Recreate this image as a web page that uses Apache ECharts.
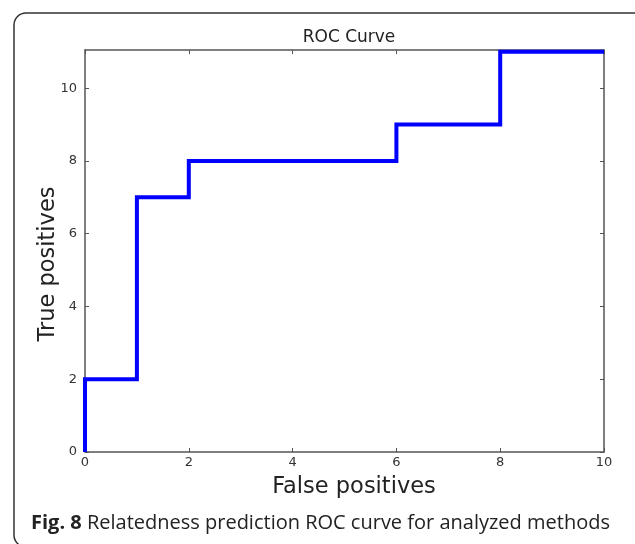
<!DOCTYPE html>
<html><head><meta charset="utf-8">
<script src="https://cdn.jsdelivr.net/npm/echarts@6/dist/echarts.min.js"></script>
<style>html,body{margin:0;padding:0;background:#fff}#c{width:635px;height:544px}</style>
</head><body><div id="c"></div>
<script>
const falsePositives = [0, 0, 1, 1, 2, 2, 6, 6, 8, 8, 10];
const truePositives  = [0, 2, 2, 7, 7, 8, 8, 9, 9, 11, 11];
const xTicks = [0, 2, 4, 6, 8, 10];
const yTicks = [0, 2, 4, 6, 8, 10];
const titleText = 'ROC Curve';
const xName = 'False positives';
const yName = 'True positives';
const captionBold = 'Fig. 8';
const captionRest = ' Relatedness prediction ROC curve for analyzed methods';

const points = falsePositives.map((x, i) => [x, truePositives[i]]);
const font = '"DejaVu Sans", sans-serif';
const axisCol = '#555';

const chart = echarts.init(document.getElementById('c'), null, {renderer: 'canvas'});
const tickStyle = {show: true, inside: true, length: 4, lineStyle: {color: axisCol, width: 1}};
const lineStyle = {show: true, onZero: false, lineStyle: {color: axisCol, width: 1.5}};
chart.setOption({
  animation: false,
  backgroundColor: '#fff',
  title: [{
    text: titleText, left: 344, top: 24, textAlign: 'center',
    textStyle: {fontFamily: font, fontSize: 17, fontWeight: 'normal', color: '#222'}
  }, {
    text: '{b|' + captionBold + '}{r|' + captionRest + '}', left: 26, top: 508,
    textStyle: {fontWeight: 'normal', rich: {
      b: {fontFamily: '"Open Sans", sans-serif', fontSize: 20, fontWeight: 'bold', color: '#222'},
      r: {fontFamily: '"Open Sans", sans-serif', fontSize: 20, fontWeight: 'normal', color: '#222'}
    }}
  }],
  graphic: [{
    type: 'rect', shape: {x: 14, y: 13, width: 640, height: 534, r: 12},
    style: {fill: null, stroke: '#333', lineWidth: 1.5}, silent: true, z: -1
  }, {
    type: 'text', x: 354, y: 487,
    style: {text: xName, font: '22.5px "DejaVu Sans", sans-serif', fill: '#222', align: 'center', verticalAlign: 'middle'}
  }, {
    type: 'text', x: 48, y: 264, rotation: Math.PI / 2,
    style: {text: yName, font: '22.5px "DejaVu Sans", sans-serif', fill: '#222', align: 'center', verticalAlign: 'middle'}
  }],
  grid: {left: 85, right: 31, top: 50, bottom: 92, containLabel: false},
  xAxis: [{
    type: 'value', min: 0, max: 10, interval: 2, position: 'bottom',
    axisLine: lineStyle,
    axisTick: tickStyle,
    axisLabel: {fontFamily: font, fontSize: 13, color: '#333', margin: 4,
      formatter: v => xTicks.includes(v) ? String(v) : ''},
    splitLine: {show: false}
  }, {
    type: 'value', min: 0, max: 10, interval: 2, position: 'top',
    axisLine: lineStyle,
    axisTick: tickStyle, axisLabel: {show: false}, splitLine: {show: false}
  }],
  yAxis: [{
    type: 'value', min: 0, max: 11.05, interval: 2, position: 'left',
    axisLine: lineStyle,
    axisTick: tickStyle,
    axisLabel: {fontFamily: font, fontSize: 13, color: '#333', margin: 8, showMaxLabel: false,
      formatter: v => yTicks.includes(v) ? String(v) : ''},
    splitLine: {show: false}
  }, {
    type: 'value', min: 0, max: 11.05, interval: 2, position: 'right',
    axisLine: lineStyle,
    axisTick: tickStyle, axisLabel: {show: false}, splitLine: {show: false}
  }],
  series: [{
    type: 'line', data: points, xAxisIndex: 0, yAxisIndex: 0,
    showSymbol: false, symbol: 'none',
    lineStyle: {color: '#0000ff', width: 4, join: 'miter', cap: 'butt'},
    clip: false, z: 3
  }]
});
</script></body></html>
